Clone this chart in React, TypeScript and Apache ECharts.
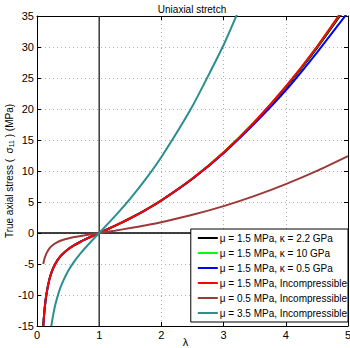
import React, { useEffect, useRef } from "react";
import * as echarts from "echarts";

// stretch values (λ)
const lambdaMain = [0.1, 0.12, 0.15, 0.2, 0.25, 0.3, 0.35, 0.4, 0.5, 0.6, 0.7, 0.8, 0.9, 1, 1.25, 1.5, 1.75, 2, 2.5, 3, 3.5, 4, 4.5, 5];
const lambdaTeal = [0.23, 0.25, 0.27, 0.3, 0.35, 0.4, 0.5, 0.6, 0.7, 0.8, 0.9, 1, 1.25, 1.5, 1.75, 2, 2.5, 3, 3.5];

// true axial stress (MPa)
const mu15k22 = [-14.99, -12.48, -9.97, -7.44, -5.91, -4.87, -4.1, -3.51, -2.63, -1.96, -1.41, -0.92, -0.45, 0, 1.14, 2.38, 3.74, 5.25, 8.77, 12.98, 17.89, 23.47, 29.83, 36.84];
const mu15k10 = [-14.99, -12.48, -9.97, -7.44, -5.91, -4.87, -4.1, -3.51, -2.63, -1.96, -1.41, -0.92, -0.45, 0, 1.14, 2.38, 3.74, 5.25, 8.78, 13.0, 17.94, 23.6, 30.0, 37.12];
const mu15k05 = [-14.99, -12.48, -9.97, -7.44, -5.91, -4.87, -4.1, -3.51, -2.63, -1.96, -1.41, -0.92, -0.45, 0, 1.14, 2.38, 3.73, 5.24, 8.74, 12.88, 17.68, 23.0, 29.1, 35.6];
const mu15inc = [-14.99, -12.48, -9.97, -7.44, -5.91, -4.87, -4.1, -3.51, -2.63, -1.96, -1.41, -0.92, -0.45, 0, 1.14, 2.38, 3.74, 5.25, 8.78, 13.0, 17.95, 23.63, 30.04, 37.2];
const mu05inc = [-5.0, -4.16, -3.32, -2.48, -1.97, -1.62, -1.37, -1.17, -0.875, -0.65, -0.47, -0.305, -0.15, 0, 0.38, 0.79, 1.25, 1.75, 2.93, 4.33, 5.98, 7.88, 10.01, 12.4];
const mu35inc = [-15.03, -13.78, -12.71, -11.35, -9.57, -8.19, -6.13, -4.57, -3.29, -2.14, -1.05, 0, 2.67, 5.54, 8.72, 12.25, 20.48, 30.33, 41.87];

const seriesNames = [
  "μ = 1.5 MPa, κ = 2.2 GPa",
  "μ = 1.5 MPa, κ = 10 GPa",
  "μ = 1.5 MPa, κ = 0.5 GPa",
  "μ = 1.5 MPa, Incompressible",
  "μ = 0.5 MPa, Incompressible",
  "μ = 3.5 MPa, Incompressible",
];
const seriesColors = ["#000000", "#00ff00", "#0000ff", "#ff0000", "#9c3a3a", "#2b8f8f"];

const xTicks = [0, 5, 1];
const yTicks = [-15, 35, 5];

const FONT = "Liberation Sans, Arial, Helvetica, sans-serif";

export default function App() {
  const ref = useRef<HTMLDivElement>(null);
  useEffect(() => {
    document.body.style.margin = "0";
    const chart = echarts.init(ref.current!, null, { renderer: "svg" });
    const pair = (xs: number[], ys: number[]) => xs.map((x, i) => [x, ys[i]]);
    const curveData = [
      pair(lambdaMain, mu15k22),
      pair(lambdaMain, mu15k10),
      pair(lambdaMain, mu15k05),
      pair(lambdaMain, mu15inc),
      pair(lambdaMain, mu05inc),
      pair(lambdaTeal, mu35inc),
    ];
    const grid = { left: 37, right: 2, top: 16, bottom: 22, outerBoundsMode: "none", containLabel: false };
    const axisCommon = {
      axisLine: { show: true, onZero: false, lineStyle: { color: "#000", width: 1 } },
      axisTick: { show: true, inside: true, length: 4, lineStyle: { color: "#000" } },
      axisLabel: { color: "#000", fontSize: 11, fontFamily: FONT },
    };
    const option: any = {
      animation: false,
      backgroundColor: "#fff",
      textStyle: { fontFamily: FONT },
      title: {
        text: "Uniaxial stretch",
        left: 187,
        top: -1,
        textAlign: "center",
        textStyle: { fontSize: 10, fontWeight: "normal", color: "#000", fontFamily: FONT },
      },
      grid,
      xAxis: [
        {
          type: "value",
          min: xTicks[0],
          max: xTicks[1],
          interval: xTicks[2],
          position: "bottom",
          ...axisCommon,
          axisLabel: { ...axisCommon.axisLabel, margin: 3 },
          splitLine: { show: true, lineStyle: { color: "#b0b0b0", type: [1, 3], width: 1 } },
          name: "λ",
          nameLocation: "middle",
          nameGap: 10,
          nameMoveOverlap: false,
          nameTextStyle: { color: "#000", fontSize: 11, fontFamily: FONT, padding: [0, 14, 0, 0] },
        },
        {
          type: "value",
          min: xTicks[0],
          max: xTicks[1],
          interval: xTicks[2],
          position: "top",
          ...axisCommon,
          axisLabel: { show: false },
          splitLine: { show: false },
        },
      ],
      yAxis: [
        {
          type: "value",
          min: yTicks[0],
          max: yTicks[1],
          interval: yTicks[2],
          position: "left",
          ...axisCommon,
          axisLabel: { ...axisCommon.axisLabel, margin: 3 },
          splitLine: { show: true, lineStyle: { color: "#b0b0b0", type: [1, 3], width: 1 } },
          name: "True axial stress (  σ{sub|11} ) (MPa)",
          nameLocation: "middle",
          nameRotate: 90,
          nameGap: 22,
          nameMoveOverlap: false,
          nameTextStyle: {
            color: "#000",
            fontSize: 10,
            fontFamily: FONT,
            rich: { sub: { fontSize: 7, color: "#000", fontFamily: FONT, padding: [5, 0, 0, 0] } },
          },
        },
        {
          type: "value",
          min: yTicks[0],
          max: yTicks[1],
          interval: yTicks[2],
          position: "right",
          ...axisCommon,
          axisLabel: { show: false },
          splitLine: { show: false },
        },
      ],
      legend: {
        data: seriesNames,
        orient: "vertical",
        right: 2,
        top: 229,
        icon: "rect",
        itemWidth: 20,
        itemHeight: 2,
        itemGap: 3,
        padding: [3, 1, 3, 7],
        borderColor: "#000",
        borderWidth: 1,
        backgroundColor: "#fff",
        textStyle: { fontSize: 10, lineHeight: 12, color: "#000", fontFamily: FONT, padding: [0, 0, 0, -3] },
        selectedMode: false,
      },
      series: [
        {
          name: "vline",
          type: "line",
          data: [[1, -15], [1, 35]],
          symbol: "none",
          lineStyle: { color: "#3a3a3a", width: 1.5 },
          silent: true,
        },
        {
          name: "hline",
          type: "line",
          data: [[0, 0], [5, 0]],
          symbol: "none",
          lineStyle: { color: "#000", width: 1.5 },
          silent: true,
        },
        ...curveData.map((d, i) => ({
          name: seriesNames[i],
          type: "line",
          data: d,
          symbol: "none",
          smooth: 0.15,
          clip: true,
          color: seriesColors[i],
          lineStyle: { color: seriesColors[i], width: 2 },
        })),
      ],
    };
    chart.setOption(option);
    return () => chart.dispose();
  }, []);
  return <div ref={ref} style={{ width: 350, height: 348 }} />;
}
